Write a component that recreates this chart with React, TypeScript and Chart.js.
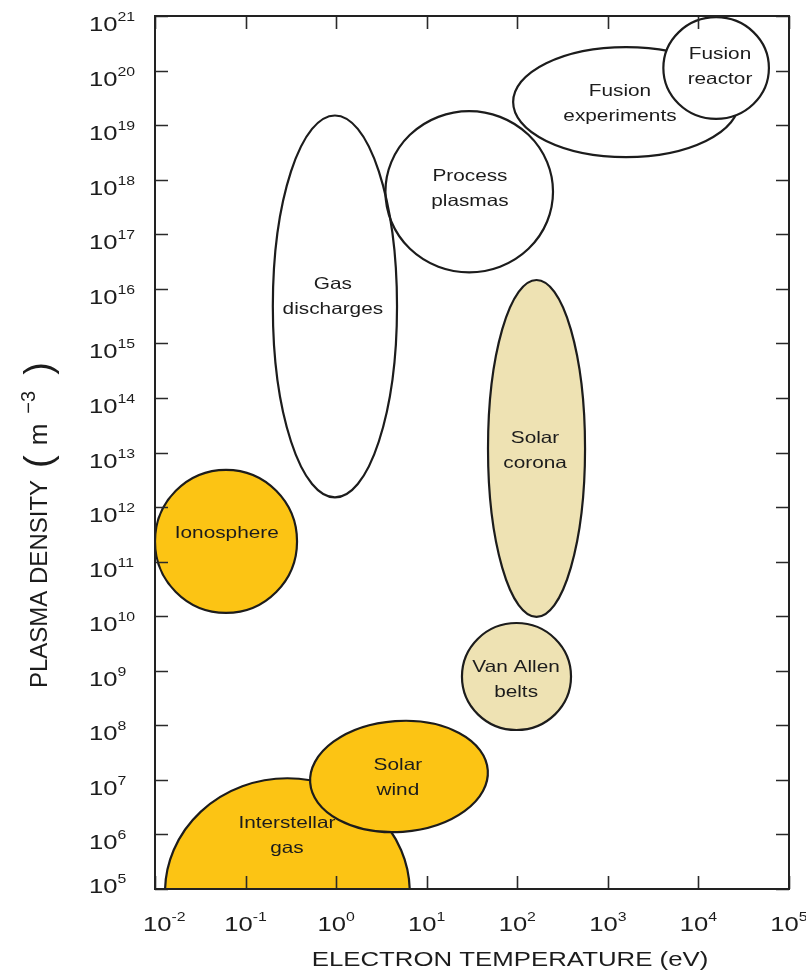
import React, { useEffect, useRef } from "react";
import { Chart, registerables } from "chart.js";

Chart.register(...registerables);

// ---------- data ----------
// axis ticks (electron temperature in eV, plasma density in m^-3)
const temperatureTicks = [1e-2, 1e-1, 1e0, 1e1, 1e2, 1e3, 1e4, 1e5];
const temperatureTickExponents = ["-2", "-1", "0", "1", "2", "3", "4", "5"];
const densityTicks = [
  1e5, 1e6, 1e7, 1e8, 1e9, 1e10, 1e11, 1e12, 1e13, 1e14, 1e15, 1e16, 1e17, 1e18, 1e19, 1e20, 1e21,
];
const densityTickExponents = [
  "5", "6", "7", "8", "9", "10", "11", "12", "13", "14", "15", "16", "17", "18", "19", "20", "21",
];

// plasma regions (drawing order)
const regionNames = [
  ["Gas", "discharges"],
  ["Process", "plasmas"],
  ["Fusion", "experiments"],
  ["Fusion", "reactor"],
  ["Ionosphere"],
  ["Interstellar", "gas"],
  ["Solar", "wind"],
  ["Solar", "corona"],
  ["Van Allen", "belts"],
];
const regionTempMin = [0.2, 3.5, 90, 4.1e3, 0.01, 0.0129, 0.514, 47.5, 24.5];
const regionTempMax = [4.7, 248, 2.8e4, 6.0e4, 0.37, 6.5, 47.5, 560, 392];
const regionDensMin = [1.5e12, 2.0e16, 2.6e18, 1.3e19, 1.15e10, 7.2e2, 1.11e6, 9.7e9, 8.2e7];
const regionDensMax = [1.5e19, 1.8e19, 2.7e20, 9.5e20, 4.8e12, 1.07e7, 1.2e8, 1.45e16, 7.5e9];
const regionTiltDeg = [0, 0, 0, 0, 0, 0, -4, 0, 0];
const regionLabelTemp = [0.92, 30, 1.36e3, 1.73e4, 0.062, 0.286, 4.8, 157, 97];
const regionLabelDens = [7.4e15, 7.1e17, 2.6e19, 1.23e20, 3.5e11, 9.8e5, 1.13e7, 1.15e13, 7.2e8];

// ---------- styles ----------
const ORANGE = "#FCC414";
const BEIGE = "#EEE2B3";
const regionFill = [null, null, null, "#ffffff", ORANGE, ORANGE, ORANGE, BEIGE, BEIGE];
const INK = "#1c1c1c";
const FONT = '"Liberation Sans", Arial, Helvetica, sans-serif';
const SX = 1.22; // horizontal stretch of the lettering

type Part = { t: string; size: number; dy: number; gap?: number };

function partsWidth(ctx: CanvasRenderingContext2D, parts: Part[]) {
  let w = 0;
  for (const p of parts) {
    ctx.font = `${p.size}px ${FONT}`;
    w += ctx.measureText(p.t).width + (p.gap || 0);
  }
  return w;
}

function drawParts(
  ctx: CanvasRenderingContext2D,
  parts: Part[],
  x: number,
  y: number,
  align: "left" | "center" | "right",
  sx: number
) {
  const w = partsWidth(ctx, parts) * sx;
  let start = x;
  if (align === "center") start = x - w / 2;
  if (align === "right") start = x - w;
  ctx.save();
  ctx.translate(start, y);
  ctx.scale(sx, 1);
  ctx.textAlign = "left";
  ctx.textBaseline = "alphabetic";
  let cx = 0;
  for (const p of parts) {
    ctx.font = `${p.size}px ${FONT}`;
    ctx.fillText(p.t, cx, p.dy);
    cx += ctx.measureText(p.t).width + (p.gap || 0);
  }
  ctx.restore();
  return start;
}

const regionPlugin = {
  id: "plasmaRegions",
  afterDraw(chart: any) {
    const { ctx, chartArea: a } = chart;
    const xs = chart.scales.x;
    const ys = chart.scales.y;

    // regions
    ctx.save();
    ctx.beginPath();
    ctx.rect(a.left, a.top, a.right - a.left, a.bottom - a.top);
    ctx.clip();
    for (let i = 0; i < regionNames.length; i++) {
      const x0 = xs.getPixelForValue(regionTempMin[i]);
      const x1 = xs.getPixelForValue(regionTempMax[i]);
      const y0 = ys.getPixelForValue(regionDensMax[i]);
      const y1 = ys.getPixelForValue(regionDensMin[i]);
      ctx.beginPath();
      ctx.ellipse(
        (x0 + x1) / 2,
        (y0 + y1) / 2,
        Math.abs(x1 - x0) / 2,
        Math.abs(y1 - y0) / 2,
        (regionTiltDeg[i] * Math.PI) / 180,
        0,
        Math.PI * 2
      );
      const f = regionFill[i];
      if (f) {
        ctx.fillStyle = f;
        ctx.fill();
      }
      ctx.lineWidth = 2.2;
      ctx.strokeStyle = INK;
      ctx.stroke();
    }
    ctx.fillStyle = INK;
    for (let i = 0; i < regionNames.length; i++) {
      const lx = xs.getPixelForValue(regionLabelTemp[i]);
      const ly = ys.getPixelForValue(regionLabelDens[i]);
      const lines = regionNames[i];
      const gap = 25;
      lines.forEach((line, k) => {
        const yy = ly + (k - (lines.length - 1) / 2) * gap + 6;
        drawParts(ctx, [{ t: line, size: 16.5, dy: 0 }], lx, yy, "center", 1.26);
      });
    }
    ctx.restore();

    // inward tick marks on all four sides
    ctx.save();
    ctx.strokeStyle = "#2a2a2a";
    ctx.lineWidth = 1.6;
    const TL = 13;
    ctx.beginPath();
    for (const v of temperatureTicks) {
      const px = Math.round(xs.getPixelForValue(v)) + 0.5;
      ctx.moveTo(px, a.bottom);
      ctx.lineTo(px, a.bottom - TL);
      ctx.moveTo(px, a.top);
      ctx.lineTo(px, a.top + TL);
    }
    for (const v of densityTicks) {
      const py = Math.round(ys.getPixelForValue(v)) + 0.5;
      ctx.moveTo(a.left, py);
      ctx.lineTo(a.left + TL, py);
      ctx.moveTo(a.right, py);
      ctx.lineTo(a.right - TL, py);
    }
    ctx.stroke();

    // frame
    ctx.lineWidth = 2;
    ctx.strokeStyle = "#222";
    ctx.strokeRect(a.left, a.top, a.right - a.left, a.bottom - a.top);
    ctx.restore();

    // tick labels
    ctx.save();
    ctx.fillStyle = INK;
    temperatureTicks.forEach((v, i) => {
      const px = xs.getPixelForValue(v);
      const parts: Part[] = [
        { t: "10", size: 21, dy: 0 },
        { t: temperatureTickExponents[i], size: 13, dy: -10 },
      ];
      const w = partsWidth(ctx, parts) * SX;
      let left = px - w / 2;
      if (left < a.left - 12) left = a.left - 12;
      drawParts(ctx, parts, left, a.bottom + 42, "left", SX);
    });
    densityTicks.forEach((v, i) => {
      const py = ys.getPixelForValue(v);
      const parts: Part[] = [
        { t: "10", size: 21, dy: 0 },
        { t: densityTickExponents[i], size: 13, dy: -10 },
      ];
      const base = Math.min(py + 15, a.bottom + 4);
      drawParts(ctx, parts, a.left - 66, base, "left", SX);
    });

    // x title
    drawParts(
      ctx,
      [{ t: "ELECTRON TEMPERATURE (eV)", size: 20, dy: 0 }],
      (a.left + a.right) / 2 + 38,
      a.bottom + 77,
      "center",
      1.29
    );

    // y title (rotated)
    ctx.save();
    ctx.translate(47, 688);
    ctx.rotate(-Math.PI / 2);
    ctx.textAlign = "left";
    ctx.textBaseline = "alphabetic";
    const yParts: Part[] = [
      { t: "PLASMA DENSITY", size: 24, dy: 0, gap: 12 },
      { t: "(", size: 38, dy: 4, gap: 10 },
      { t: "m", size: 26, dy: 0, gap: 10 },
      { t: "\u22123", size: 20, dy: -12, gap: 16 },
      { t: ")", size: 38, dy: 4 },
    ];
    let cx = 0;
    for (const p of yParts) {
      ctx.font = `${p.size}px ${FONT}`;
      ctx.fillText(p.t, cx, p.dy);
      cx += ctx.measureText(p.t).width + (p.gap || 0);
    }
    ctx.restore();
    ctx.restore();
  },
};

export default function App() {
  const ref = useRef<HTMLCanvasElement | null>(null);
  useEffect(() => {
    if (!ref.current) return;
    const chart = new Chart(ref.current, {
      type: "scatter",
      data: {
        datasets: [
          {
            label: "regions",
            data: regionLabelTemp.map((t, i) => ({ x: t, y: regionLabelDens[i] })),
            pointRadius: 0,
            showLine: false,
          },
        ],
      },
      options: {
        animation: false,
        responsive: false,
        layout: { padding: { left: 155, right: 17, top: 16, bottom: 83 } },
        plugins: { legend: { display: false }, tooltip: { enabled: false } },
        scales: {
          x: { type: "logarithmic", min: 1e-2, max: 1e5, display: false },
          y: { type: "logarithmic", min: 1e5, max: 1e21, display: false },
        },
      },
      plugins: [regionPlugin],
    });
    return () => chart.destroy();
  }, []);
  return (
    <div style={{ position: "fixed", left: 0, top: 0, width: 806, height: 972, background: "#fff" }}>
      <canvas ref={ref} width={806} height={972} style={{ width: 806, height: 972, display: "block" }} />
    </div>
  );
}
